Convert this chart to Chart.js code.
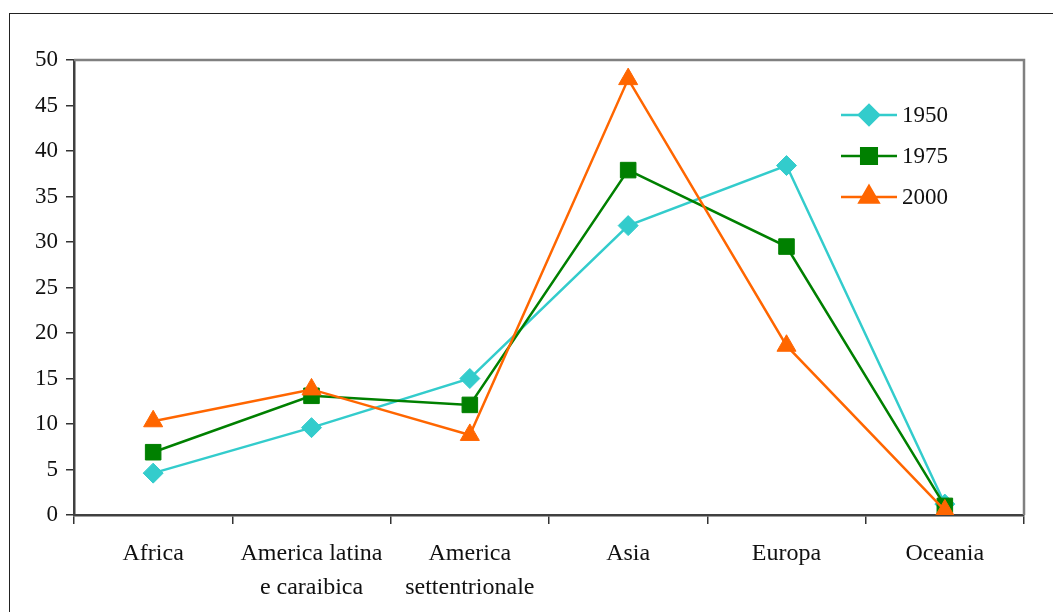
<!DOCTYPE html>
<html>
<head>
<meta charset="utf-8">
<script src="https://cdn.jsdelivr.net/npm/chart.js@4.4.0/dist/chart.umd.min.js"></script>
<style>
  html, body { margin: 0; padding: 0; background: #fff; overflow: hidden; }
  #frame { position: absolute; left: 9px; top: 13px; width: 1100px; height: 700px; border-left: 1.5px solid #222; border-top: 1.5px solid #222; }
  #wrap { position: absolute; left: 0; top: 0; width: 1053px; height: 612px; }
</style>
</head>
<body>
<div id="frame"></div>
<div id="wrap"><canvas id="c"></canvas></div>
<script>
const REGIONS = ['Africa', ['America latina', 'e caraibica'], ['America', 'settentrionale'], 'Asia', 'Europa', 'Oceania'];
const SERIES_NAMES = ['1950', '1975', '2000'];
const V1950 = [4.6, 9.6, 15.0, 31.8, 38.4, 1.2];
const V1975 = [6.9, 13.1, 12.1, 37.9, 29.5, 1.0];
const V2000 = [10.3, 13.8, 8.8, 47.9, 18.6, 0.5];
const Y_MIN = 0, Y_MAX = 50, Y_STEP = 5;

const COLORS = ['#33CCCC', '#008000', '#FF6600'];
const SHAPES = ['rectRot', 'rect', 'triangle'];
const RADII = [10, 11, 11];
const FONT = '"Liberation Serif", "Times New Roman", serif';

const mkSet = (i, data) => ({
    label: SERIES_NAMES[i], data, order: 3 - i,
    borderColor: COLORS[i], backgroundColor: COLORS[i], borderWidth: 2.5,
    pointStyle: SHAPES[i], pointRadius: RADII[i], pointHoverRadius: RADII[i],
    pointBorderWidth: 1, pointBorderColor: COLORS[i], tension: 0
});

// grey frame on top/right of plot area + hand drawn legend (line through marker)
const framePlugin = {
    id: 'frame',
    afterDraw(chart) {
        const { ctx, chartArea: a } = chart;
        ctx.save();
        ctx.strokeStyle = '#808080';
        ctx.lineWidth = 2.5;
        ctx.beginPath();
        ctx.moveTo(a.left, a.top); ctx.lineTo(a.right, a.top); ctx.lineTo(a.right, a.bottom);
        ctx.stroke();
        SERIES_NAMES.forEach((name, i) => {
            const y = 115 + i * 41;
            ctx.strokeStyle = COLORS[i]; ctx.lineWidth = 2.5;
            ctx.beginPath(); ctx.moveTo(841, y); ctx.lineTo(897, y); ctx.stroke();
            ctx.fillStyle = COLORS[i];
            Chart.helpers.drawPoint(ctx, { pointStyle: SHAPES[i], radius: RADII[i], borderWidth: 1 }, 869, y);
            ctx.fillStyle = '#111';
            ctx.font = '23px ' + FONT;
            ctx.textBaseline = 'middle';
            ctx.fillText(name, 902, y + 1);
        });
        ctx.restore();
    }
};

new Chart(document.getElementById('c'), {
    type: 'line',
    data: { labels: REGIONS, datasets: [mkSet(0, V1950), mkSet(1, V1975), mkSet(2, V2000)] },
    options: {
        responsive: true, maintainAspectRatio: false, animation: false,
        layout: { padding: { top: 60, right: 29, bottom: 0, left: 0 } },
        plugins: { legend: { display: false }, tooltip: { enabled: false } },
        scales: {
            x: {
                offset: true,
                afterFit: s => { s.height = 97; },
                grid: { offset: true, drawOnChartArea: false, tickLength: 9, color: '#333', lineWidth: 1.5 },
                border: { color: '#404040', width: 2.5 },
                ticks: { color: '#111', font: { family: FONT, size: 24, lineHeight: 1.45 }, padding: 12, maxRotation: 0, autoSkip: false }
            },
            y: {
                min: Y_MIN, max: Y_MAX,
                afterFit: s => { s.width = 74; },
                grid: { drawOnChartArea: false, tickLength: 8, color: '#333', lineWidth: 1.5 },
                border: { color: '#404040', width: 2.5 },
                ticks: { stepSize: Y_STEP, color: '#111', font: { family: FONT, size: 23 }, padding: 8 }
            }
        }
    },
    plugins: [framePlugin]
});
</script>
</body>
</html>
